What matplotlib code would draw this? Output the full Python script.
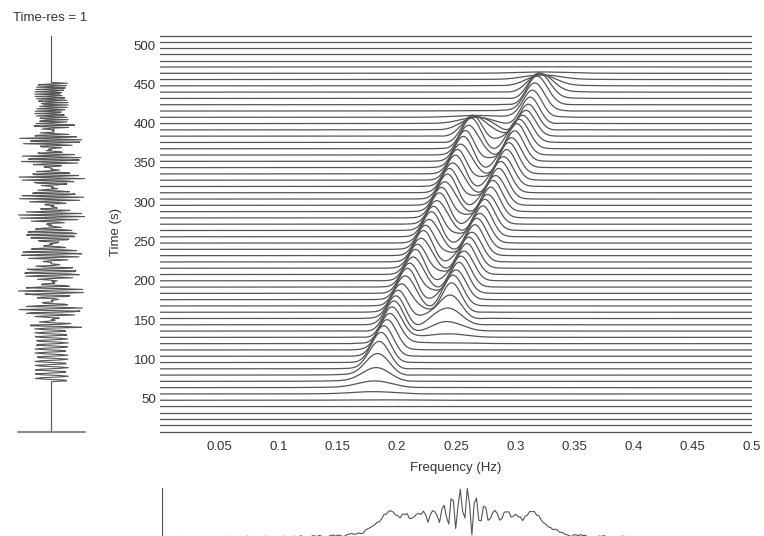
import numpy as np
import matplotlib
matplotlib.use('Agg')
import matplotlib.pyplot as plt

plt.rcParams['font.family'] = ['Liberation Sans', 'DejaVu Sans']

# --- chirp components (two linear FM tones) ---
chirp_t_start = [65.0, 134.0]      # s
chirp_t_end = [397.0, 450.0]       # s
chirp_f_start = [0.178, 0.2384]    # Hz
chirp_f_end = [0.271, 0.3268]      # Hz
chirp_amp = [1.0, 1.0]

n_samples = 512
time_res = 1          # s per sample
row_step = 8          # s between waterfall rows
window_len = 80       # samples in the analysis window
peak_height = 40.0    # s, height of the tallest waterfall peak

freq_ticks = [0.05, 0.1, 0.15, 0.2, 0.25, 0.3, 0.35, 0.4, 0.45, 0.5]
freq_tick_labels = ['0.05', '0.1', '0.15', '0.2', '0.25', '0.3', '0.35', '0.4', '0.45', '0.5']
time_ticks = [50, 100, 150, 200, 250, 300, 350, 400, 450, 500]
time_tick_labels = ['50', '100', '150', '200', '250', '300', '350', '400', '450', '500']

# --- build the signal from the chirp parameters ---
t = np.arange(n_samples) * time_res
signal = np.zeros(n_samples)
for ts, te, f0, f1, a in zip(chirp_t_start, chirp_t_end, chirp_f_start, chirp_f_end, chirp_amp):
    m = (t >= ts) & (t <= te)
    k = (f1 - f0) / (te - ts)
    tau = t[m] - ts
    signal[m] += a * np.sin(2 * np.pi * (f0 * tau + 0.5 * k * tau ** 2))

# --- short-time power spectra ---
nfft = 1024
freqs = np.fft.rfftfreq(nfft, d=time_res)
win = np.hanning(window_len)
row_times = np.arange(row_step, n_samples + 1, row_step)
padded = np.concatenate([np.zeros(window_len), signal, np.zeros(window_len)])
spectra = []
for tc in row_times:
    i0 = int(tc) - window_len // 2 + window_len
    seg = padded[i0:i0 + window_len] * win
    spectra.append(np.abs(np.fft.rfft(seg, nfft)) ** 2)
spectra = np.array(spectra)
scale = peak_height / spectra.max()

full_spec = np.abs(np.fft.rfft(signal))
full_freqs = np.fft.rfftfreq(n_samples, d=time_res)

line_col = '#555555'
text_col = '#333333'

fig = plt.figure(figsize=(7.64, 5.36), dpi=100)
W, H = 764.0, 536.0

# main waterfall axes
ax = fig.add_axes([160 / W, 1 - 438 / H, 592 / W, (438 - 25.35) / H])
for tc, sp in zip(row_times, spectra):
    ax.plot(freqs, tc + scale * sp, color=line_col, lw=0.9)
ax.set_xlim(0, 0.5)
ax.set_ylim(0, 525)
for s in ax.spines.values():
    s.set_visible(False)
ax.set_xticks(freq_ticks)
ax.set_xticklabels(freq_tick_labels)
ax.set_yticks(time_ticks)
ax.set_yticklabels(time_tick_labels)
ax.tick_params(length=0, labelsize=9.5, colors=text_col)
ax.tick_params(axis='x', pad=2)
ax.tick_params(axis='y', pad=3)
ax.set_xlabel('Frequency (Hz)', fontsize=9.5, color=text_col, labelpad=7)
ax.set_ylabel('Time (s)', fontsize=9.5, color=text_col, labelpad=8)

# left: time series drawn vertically
axl = fig.add_axes([18 / W, 1 - 432 / H, 67 / W, (432 - 36) / H])
axl.plot(signal, t, color=line_col, lw=0.8)
axl.set_xlim(-2.0, 2.0)
axl.set_ylim(0, n_samples - 1)
for name, s in axl.spines.items():
    s.set_visible(name == 'bottom')
axl.spines['bottom'].set_color('#777777')
axl.spines['bottom'].set_linewidth(1.2)
axl.set_xticks([])
axl.set_yticks([])
axl.patch.set_alpha(0)
fig.text(50 / W, 1 - 18 / H, 'Time-res = 1', ha='center', va='center',
         fontsize=9.5, color=text_col)

# bottom: spectrum of the whole signal
axb = fig.add_axes([162 / W, 0, 592 / W, 48 / H])
M = full_spec.max()
axb.plot(full_freqs, full_spec, color=line_col, lw=0.8)
axb.set_xlim(0, 0.5)
axb.set_ylim(0.04 * M, 1.01 * M)
for name, s in axb.spines.items():
    s.set_visible(name == 'left')
axb.spines['left'].set_color('#555555')
axb.set_xticks([])
axb.set_yticks([])
axb.patch.set_alpha(0)

fig.savefig('out.png', dpi=100)
